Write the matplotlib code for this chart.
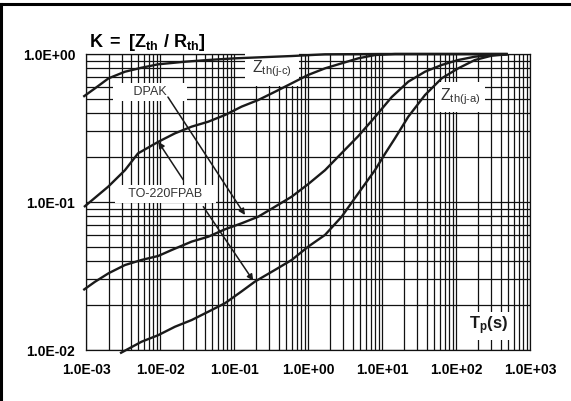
import numpy as np
import matplotlib
matplotlib.use("Agg")
import matplotlib.pyplot as plt
from matplotlib.ticker import FixedLocator, LogLocator, NullFormatter
from matplotlib.lines import Line2D

plt.rcParams['font.family'] = ['Liberation Sans', 'DejaVu Sans']
plt.rcParams['mathtext.fontset'] = 'custom'
plt.rcParams['mathtext.rm'] = 'Liberation Sans'
plt.rcParams['mathtext.bf'] = 'Liberation Sans:bold'
plt.rcParams['mathtext.it'] = 'Liberation Sans:italic'

# 1. 곡선 데이터
# Zth(j-c) DPAK
tp_jc_dpak = [9.1e-4, 1.31e-3, 2.0e-3, 3.33e-3, 5.6e-3, 9.4e-3, 0.0216, 0.0447, 0.1026, 0.6, 1.69, 9.3, 500]
k_jc_dpak = [0.514, 0.586, 0.685, 0.759, 0.808, 0.852, 0.887, 0.911, 0.935, 0.969, 0.995, 1.0, 1.0]

# Zth(j-c) TO-220FPAB
tp_jc_to220 = [9.3e-4, 1.98e-3, 3.33e-3, 5.0e-3, 9.4e-3, 0.0158, 0.0266, 0.0447, 0.075, 0.126,
               0.212, 0.357, 0.6, 1.0, 1.69, 2.84, 4.77, 8.0, 15, 500]
k_jc_to220 = [0.0925, 0.127, 0.164, 0.213, 0.255, 0.291, 0.323, 0.349, 0.387, 0.441,
              0.489, 0.556, 0.634, 0.722, 0.80, 0.865, 0.935, 0.984, 1.0, 1.0]

# Zth(j-a) DPAK
tp_ja_dpak = [9.1e-4, 1.31e-3, 2.0e-3, 3.33e-3, 5.6e-3, 9.4e-3, 0.0143, 0.0266, 0.0447, 0.075,
              0.126, 0.212, 0.357, 0.6, 1.0, 1.69, 2.84, 4.77, 8.0, 13.5, 22.6, 38, 64, 107, 180, 303, 500]
k_ja_dpak = [0.0254, 0.0289, 0.033, 0.0375, 0.0406, 0.0432, 0.0474, 0.054, 0.0583, 0.0654,
             0.0718, 0.0796, 0.093, 0.1087, 0.132, 0.164, 0.214, 0.279, 0.375, 0.512, 0.65, 0.759, 0.843, 0.911, 0.959, 0.984, 0.995]

# Zth(j-a) TO-220FPAB
tp_ja_to220 = [2.86e-3, 5.6e-3, 9.4e-3, 0.0158, 0.0266, 0.0447, 0.075, 0.126, 0.191, 0.357,
               0.6, 1.0, 1.69, 2.84, 4.77, 8.0, 10.9, 14.9, 22.6, 38, 64, 107, 180, 303, 500]
k_ja_to220 = [0.0095, 0.01138, 0.0126, 0.01436, 0.01594, 0.01815, 0.0207, 0.0249, 0.0290, 0.0348,
              0.0406, 0.0499, 0.0599, 0.0796, 0.1145, 0.164, 0.211, 0.269, 0.377, 0.528, 0.685, 0.80, 0.911, 0.974, 0.995]

x_ticks = [1e-3, 1e-2, 1e-1, 1e0, 1e1, 1e2, 1e3]
x_labels = ['1.0E-03', '1.0E-02', '1.0E-01', '1.0E+00', '1.0E+01', '1.0E+02', '1.0E+03']
y_ticks = [1e-2, 1e-1, 1e0]
y_labels = ['1.0E-02', '1.0E-01', '1.0E+00']

# 2. 그림 구성
W, H = 571, 401
fig = plt.figure(figsize=(W / 100, H / 100), dpi=100)
ax = fig.add_axes([86.3 / W, 1 - 350 / H, (530 - 86.3) / W, (350 - 54) / H])
ax.set_xscale('log')
ax.set_yscale('log')
ax.set_xlim(1e-3, 1e3)
ax.set_ylim(1e-2, 1e0)

ax.xaxis.set_major_locator(FixedLocator(x_ticks))
ax.set_xticklabels(x_labels)
ax.yaxis.set_major_locator(FixedLocator(y_ticks))
ax.set_yticklabels(y_labels)
ax.xaxis.set_minor_locator(LogLocator(base=10, subs=np.arange(2, 10)))
ax.yaxis.set_minor_locator(LogLocator(base=10, subs=np.arange(2, 10)))
ax.xaxis.set_minor_formatter(NullFormatter())
ax.yaxis.set_minor_formatter(NullFormatter())
ax.tick_params(which='both', length=0)
ax.tick_params(axis='x', pad=9, labelsize=10)
ax.tick_params(axis='y', pad=8, labelsize=10)
for lab in ax.get_xticklabels() + ax.get_yticklabels():
    lab.set_fontweight('bold')

ax.grid(True, which='both', color='#111111', linewidth=0.9)
for sp in ax.spines.values():
    sp.set_linewidth(0.9)
    sp.set_color('#111111')

curve_kw = dict(color='#1a1a1a', linewidth=1.7, clip_on=False, zorder=4, solid_capstyle='butt')
ax.plot(tp_jc_dpak, k_jc_dpak, **curve_kw)
ax.plot(tp_jc_to220, k_jc_to220, **curve_kw)
ax.plot(tp_ja_dpak, k_ja_dpak, **curve_kw)
ax.plot(tp_ja_to220, k_ja_to220, **curve_kw)

# 3. 라벨과 화살표
box = dict(boxstyle='square,pad=0.25', facecolor='white', edgecolor='none')
ax.text(7.3e-3, 0.554, '     DPAK     ', fontsize=9, color='#333333', ha='center', va='center', bbox=box, zorder=3)
ax.text(0.0116, 0.113, '   TO-220FPAB   ', fontsize=9, color='#333333', ha='center', va='center', bbox=box, zorder=3)
ax.text(0.324, 0.792, r'$\mathregular{Z_{th(j\text{-}c)}}$', fontsize=11.5, color='#333333',
        ha='center', va='center', bbox=dict(boxstyle='square,pad=0.45', facecolor='white', edgecolor='none'), zorder=3)
ax.text(113, 0.512, r'$\mathregular{Z_{th(j\text{-}a)}}$', fontsize=11.5, color='#333333',
        ha='center', va='center', bbox=dict(boxstyle='square,pad=0.3', facecolor='white', edgecolor='none'), zorder=3)
ax.text(279, 0.0145, r'$\mathbf{T_p(s)}$', fontsize=12, color='#1a1a1a',
        ha='center', va='center', bbox=dict(boxstyle='square,pad=0.15', facecolor='white', edgecolor='none'), zorder=3)

arrow = dict(arrowstyle='-|>', color='#1a1a1a', lw=1.1, mutation_scale=9, shrinkA=0, shrinkB=0)
ax.annotate('', xy=(0.14, 0.0817), xytext=(0.0127, 0.512), arrowprops=arrow, zorder=5)
ax.annotate('', xy=(9.4e-3, 0.255), xytext=(0.0205, 0.141), arrowprops=arrow, zorder=5)
ax.annotate('', xy=(0.181, 0.0294), xytext=(0.0382, 0.093), arrowprops=arrow, zorder=5)

fig.text(89 / W, 1 - 47 / H, r'$\mathbf{K\ =\ [Z_{th}\ /\ R_{th}]}$', fontsize=13, ha='left', va='baseline')

# 바깥 테두리 (왼쪽, 위쪽)
fig.add_artist(Line2D([1.3 / W, 1.3 / W], [0, 1 - 4 / H], color='black', linewidth=2.2, transform=fig.transFigure))
fig.add_artist(Line2D([0, 1], [1 - 4 / H, 1 - 4 / H], color='black', linewidth=2.2, transform=fig.transFigure))

fig.savefig('out.png', dpi=100)
